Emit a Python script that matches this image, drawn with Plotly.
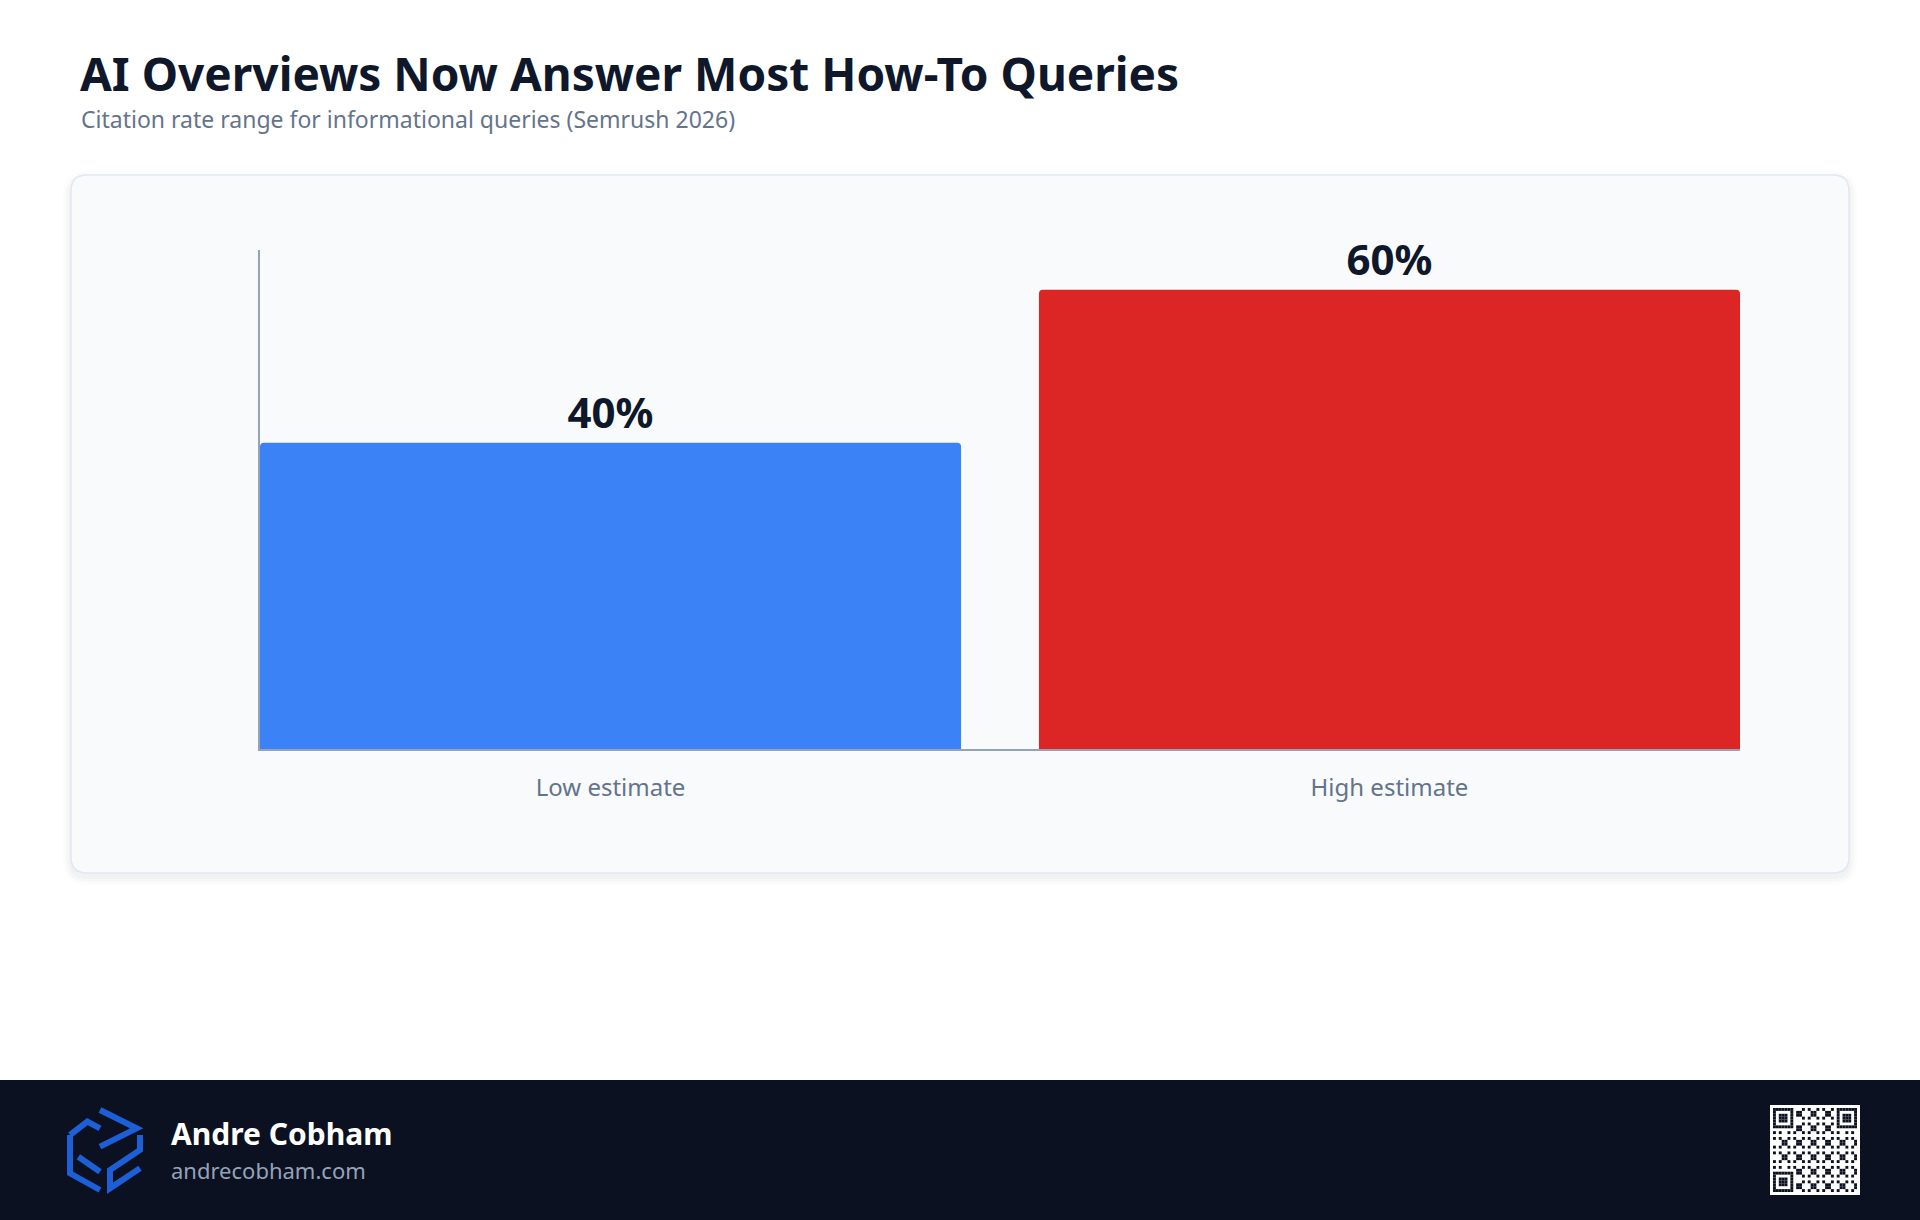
import plotly.graph_objects as go

categories = ["Low estimate", "High estimate"]
values = [40, 60]
labels = ["40%", "60%"]
colors = ["#3b82f6", "#dc2626"]

W, H = 1920, 1220
def px(x): return x / W
def py(y): return 1 - y / H

fig = go.Figure(go.Bar(
    x=categories, y=values, marker=dict(color=colors, cornerradius=4, line_width=0),
    text=labels, textposition="outside", cliponaxis=False,
    textfont=dict(family="Noto Sans", size=42, color="#0f172a", weight="bold"),
    hoverinfo="skip", width=0.9,
))

def P(x, y): return f"{px(x)},{py(y)}"
def rrect(x0, y0, x1, y1, r):
    return (f"M{P(x0+r,y0)} L{P(x1-r,y0)} Q{P(x1,y0)} {P(x1,y0+r)} L{P(x1,y1-r)} "
            f"Q{P(x1,y1)} {P(x1-r,y1)} L{P(x0+r,y1)} Q{P(x0,y1)} {P(x0,y1-r)} "
            f"L{P(x0,y0+r)} Q{P(x0,y0)} {P(x0+r,y0)} Z")

shapes = []
for d, op in [(8, 0.012), (5, 0.018), (2, 0.025)]:
    shapes.append(dict(type="path", xref="paper", yref="paper", layer="below",
                       path=rrect(71 - d, 175 - d + 4, 1849 + d, 873 + d + 4, 16 + d),
                       fillcolor=f"rgba(15,23,42,{op})", line_width=0))
shapes.append(dict(type="path", xref="paper", yref="paper", layer="below",
                   path=rrect(71, 175, 1849, 873, 16),
                   fillcolor="#f8fafc", line=dict(color="#e2e8f0", width=1.5)))
# footer
shapes.append(dict(type="rect", xref="paper", yref="paper", layer="below",
                   x0=0, x1=1, y0=0, y1=py(1080), fillcolor="#0b1120", line_width=0))
# logo
logo_paths = [
    [(210,225),(262,185),(300,205)],
    [(300,150),(410,205),(300,260)],
    [(210,225),(210,340),(300,390)],
    [(235,290),(300,335)],
    [(420,225),(420,270),(330,330),(330,385),(420,325)],
]
for pts in logo_paths:
    pth = "M" + " L".join(P(x/3, 1060 + y/3) for x, y in pts)
    shapes.append(dict(type="path", xref="paper", yref="paper", path=pth,
                       line=dict(color="#1d5fd6", width=6)))
# QR code
qx0, qy0, qs = 1770, 1105, 90
shapes.append(dict(type="rect", xref="paper", yref="paper", x0=px(qx0), x1=px(qx0+qs),
                   y0=py(qy0+qs), y1=py(qy0), fillcolor="white", line_width=0))
n = 29
m = (qs - 6) / n
def mod(i, j, c="#0b1120"):
    shapes.append(dict(type="rect", xref="paper", yref="paper",
                       x0=px(qx0+3+j*m), x1=px(qx0+3+(j+1)*m),
                       y0=py(qy0+3+(i+1)*m), y1=py(qy0+3+i*m), fillcolor=c, line_width=0))
def finder(i, j):
    for a in range(7):
        for b in range(7):
            if a in (0, 6) or b in (0, 6) or (2 <= a <= 4 and 2 <= b <= 4):
                mod(i + a, j + b)
finder(0, 0); finder(0, n-7); finder(n-7, 0)
for i in range(n):
    for j in range(n):
        if (i < 8 and j < 8) or (i < 8 and j >= n-8) or (i >= n-8 and j < 8):
            continue
        if ((i * 7 + j * 13 + i * j * 3) % 5) < 2:
            mod(i, j)

def ann(text, x, y, size, color):
    return dict(text=text, x=px(x), y=py(y), xref="paper", yref="paper",
                xanchor="left", yanchor="middle", showarrow=False,
                font=dict(family="Noto Sans", size=size, color=color))

annotations = [
    ann("<b>AI Overviews Now Answer Most How-To Queries</b>", 78, 73, 46, "#0f172a"),
    ann("Citation rate range for informational queries (Semrush 2026)", 79, 119, 23, "#64748b"),
    ann("<b>Andre Cobham</b>", 169, 1133, 30, "white"),
    ann("andrecobham.com", 169, 1170, 22, "#94a3b8"),
]

fig.update_layout(
    width=W, height=H, margin=dict(l=0, r=0, t=0, b=0),
    paper_bgcolor="white", plot_bgcolor="rgba(0,0,0,0)", showlegend=False,
    shapes=shapes, annotations=annotations, bargap=0.1,
    xaxis=dict(domain=[px(260), px(1740)], range=[-0.45, 1.45], showgrid=False,
               showline=True, linecolor="#94a3b8", linewidth=1.5, ticks="",
               tickfont=dict(family="Noto Sans", size=24, color="#64748b"), ticklabelstandoff=16),
    yaxis=dict(domain=[py(749), py(250)], range=[0, 65.2], showgrid=False, zeroline=False,
               showline=True, linecolor="#94a3b8", linewidth=1.5, showticklabels=False, ticks=""),
)
fig.write_html("out.html", config={"displayModeBar": False},
               post_script="document.body.style.margin='0';")
